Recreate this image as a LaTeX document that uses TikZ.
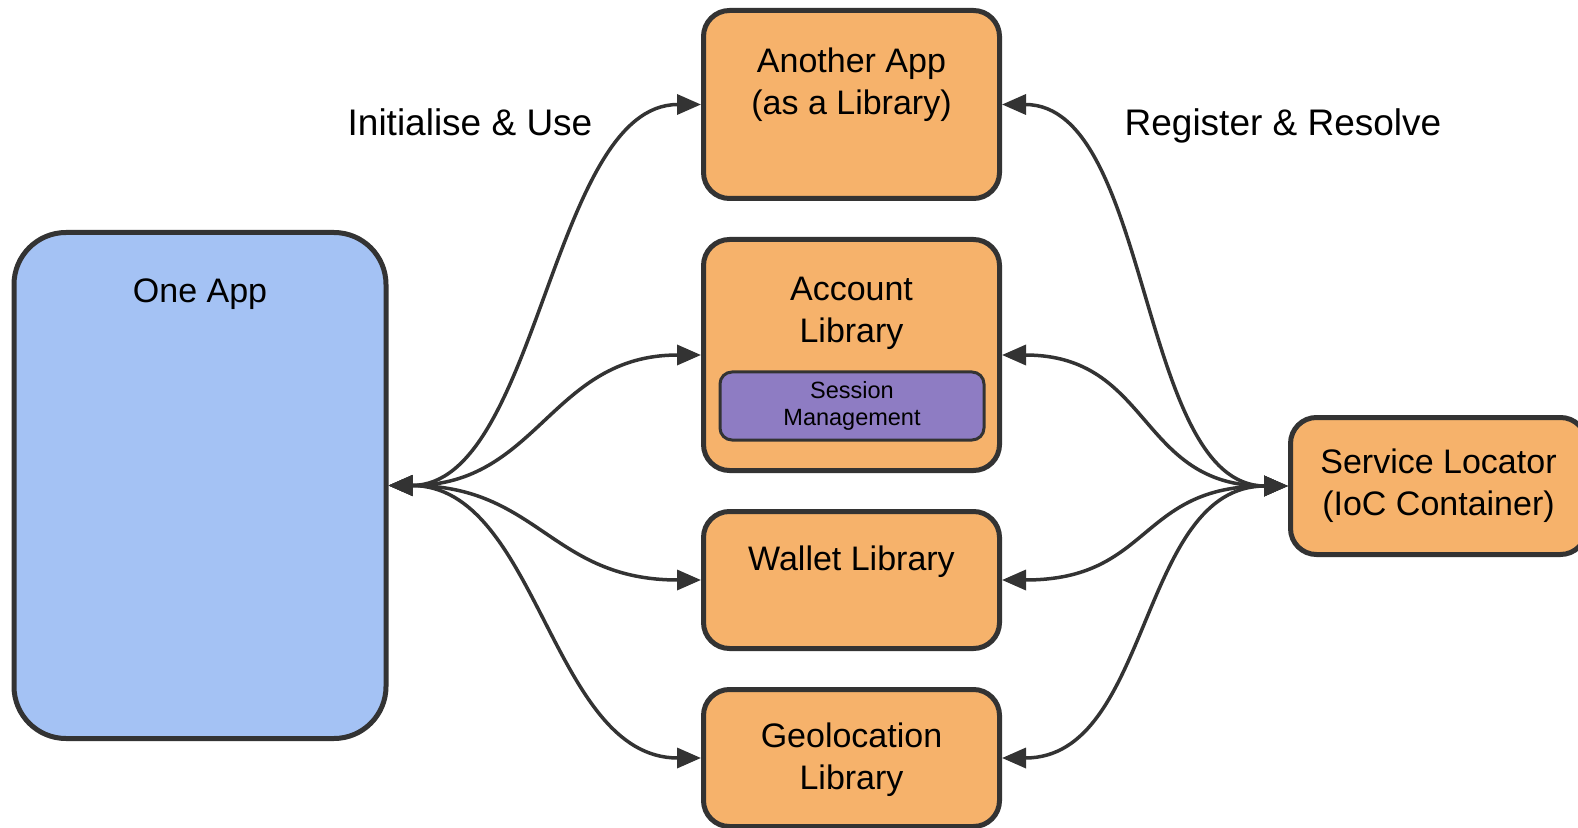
\documentclass[tikz,border=0pt]{standalone}
\usepackage{fontspec}
\setmainfont{Liberation Sans}
\usetikzlibrary{positioning,arrows.meta}

\definecolor{orangebox}{HTML}{F6B26B}
\definecolor{bluebox}{HTML}{A4C2F4}
\definecolor{purplebox}{HTML}{8E7CC3}
\definecolor{trait}{HTML}{333333}

\begin{document}
\begin{tikzpicture}[x=0.5pt, y=-0.5pt, node distance=18pt,
    libbox/.style={draw=trait, line width=2.5pt, fill=orangebox, rounded corners=13pt, minimum width=148pt},
    boxtext/.style={font=\fontsize{17}{21}\selectfont, align=center, inner sep=0pt},
    sidetext/.style={font=\fontsize{18.5}{22}\selectfont, anchor=base},
    link/.style={{Triangle[length=12pt,width=10pt]}-{Triangle[length=12pt,width=10pt]}, draw=trait, line width=1.75pt, out=0, in=180, distance=75pt}]
              \useasboundingbox (0,0) rectangle (1578,828);

              % Les boîtes
                \node[draw=trait, line width=2.5pt, fill=bluebox, rounded corners=26pt, minimum width=186pt, minimum height=253pt] (oneapp) at (200,485.5) {};
                \node[libbox, minimum height=94pt] (another) at (851.5,104.5) {};
                \node[libbox, minimum height=115.5pt, below=of another] (account) {};
                \node[libbox, minimum height=68.5pt, below=of account] (wallet) {};
                \node[libbox, minimum height=68.5pt, below=of wallet] (geoloc) {};
                \node[libbox, minimum height=68.5pt, boxtext] (locator) at (1438.5,486) {Service Locator\\(IoC Container)};

              % Le module dans la librairie
                \node[draw=trait, line width=1.5pt, fill=purplebox, rounded corners=6pt, minimum width=132pt, minimum height=34pt, font=\fontsize{11.75}{13.25}\selectfont, align=center, inner sep=0pt] (session) at (852,406) {Session\\Management};

              % Les textes
                \node[boxtext, below=24pt of oneapp.north] (oneapptxt) {One App};
                \node[boxtext, below=19.5pt of another.north] (anothertxt) {Another App\\(as a Library)};
                \node[boxtext, below=20pt of account.north] (accounttxt) {Account\\Library};
                \node[boxtext, below=18.25pt of wallet.north] (wallettxt) {Wallet Library};
                \node[boxtext, below=17.5pt of geoloc.north] (geoloctxt) {Geolocation\\Library};
                \node[sidetext] (initlbl) at (470,136) {Initialise \& Use};
                \node[sidetext] (reglbl) at (1283,136) {Register \& Resolve};

              % Flèches vers les librairies
              \draw[link] (oneapp.east) to (another.west);
              \draw[link] (oneapp.east) to (account.west);
              \draw[link] (oneapp.east) to (wallet.west);
              \draw[link] (oneapp.east) to (geoloc.west);

              % Flèches vers le conteneur
              \draw[link] (another.east) to (locator.west);
              \draw[link] (account.east) to (locator.west);
              \draw[link] (wallet.east) to (locator.west);
              \draw[link] (geoloc.east) to (locator.west);
            \end{tikzpicture}
\end{document}
